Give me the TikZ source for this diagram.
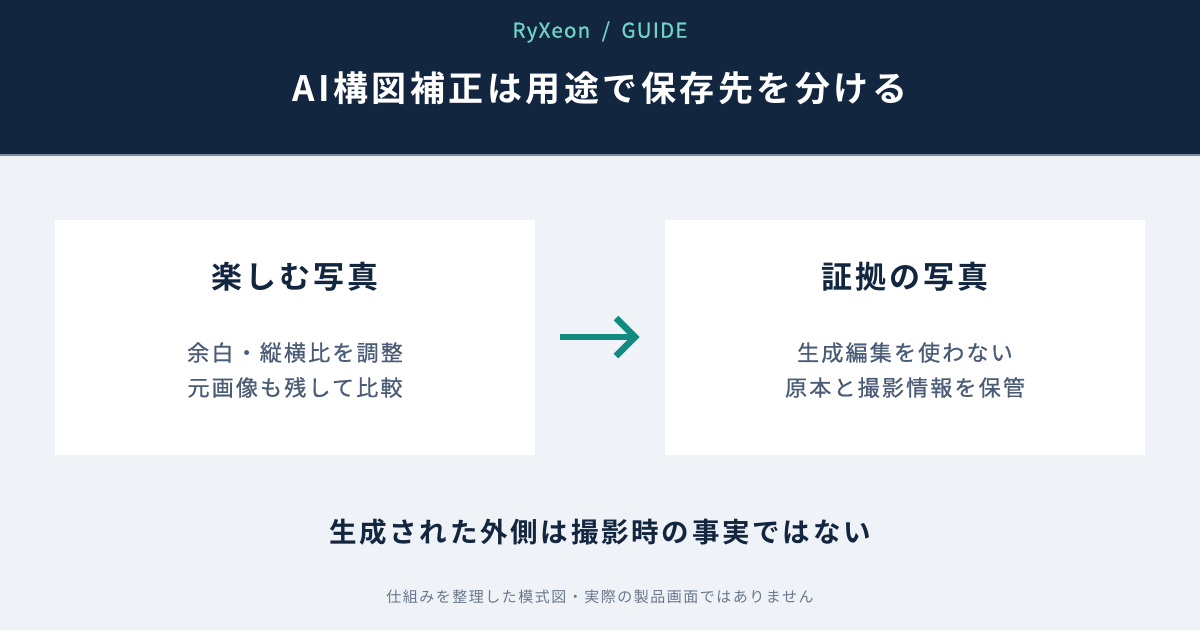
\documentclass[tikz,border=0pt]{standalone}
\usepackage{fontspec}
\newfontfamily\jpb[LetterSpace=10]{Noto Sans CJK JP Bold}
\newfontfamily\jpr[LetterSpace=10]{Noto Sans CJK JP}
\newfontfamily\jpmed[LetterSpace=10,FakeBold=0.8]{Noto Sans CJK JP}
\newfontfamily\jpm[LetterSpace=6,FakeBold=0.9]{Noto Sans CJK JP}
\definecolor{navy}{HTML}{13263F}
\definecolor{pagebg}{HTML}{EFF2F7}
\definecolor{subtxt}{HTML}{4B5D76}
\definecolor{foot}{HTML}{6A788B}
\definecolor{teal}{HTML}{138A7F}
\definecolor{tealL}{HTML}{6FD3C6}
\definecolor{rule}{HTML}{7D8A9C}
\tikzset{
  px/.style={x=1pt,y=-1pt},
  card/.style={fill=white,draw=none},
  headtxt/.style={anchor=center,text=tealL,font=\jpm\fontsize{20.5}{24}\selectfont},
  titletxt/.style={anchor=center,text=white,font=\jpb\fontsize{35}{40}\selectfont},
  cardtitle/.style={anchor=center,text=navy,font=\jpb\fontsize{31}{36}\selectfont},
  cardsub/.style={anchor=center,text=subtxt,align=center,font=\jpmed\fontsize{22}{35}\selectfont},
  note/.style={anchor=center,text=navy,font=\jpb\fontsize{27.5}{32}\selectfont},
  foottxt/.style={anchor=center,text=foot,font=\jpr\fontsize{15}{18}\selectfont},
  flow/.style={draw=teal,line width=6.5pt},
}
\begin{document}
\begin{tikzpicture}[px]
\useasboundingbox (0,0) rectangle (1200,630);
\fill[pagebg] (0,0) rectangle (1200,630);
\fill[navy] (0,0) rectangle (1200,155);
\draw[rule,line width=1.5pt] (0,155) -- (1200,155);
\node[headtxt] (brand) at (600,32) {RyXeon\ \ /\ \ GUIDE};
\node[titletxt] (title) at (600,88) {AI構図補正は用途で保存先を分ける};
\fill[card] (55,220) rectangle (535,455);
\fill[card] (665,220) rectangle (1145,455);
\node[cardtitle] (t1) at (295,277) {楽しむ写真};
\node[cardsub] (s1) at (295,370) {余白・縦横比を調整\\元画像も残して比較};
\node[cardtitle] (t2) at (905,277) {証拠の写真};
\node[cardsub] (s2) at (905,370) {生成編集を使わない\\原本と撮影情報を保管};
\coordinate (a0) at (560,337);
\coordinate (a1) at (635,337);
\coordinate (h1) at (616,318);
\coordinate (h2) at (616,356);
\draw[flow] (a0) -- (a1);
\draw[flow,line join=miter] (h1) -- (a1) -- (h2);
\node[note] (n) at (600,532) {生成された外側は撮影時の事実ではない};
\node[foottxt] (f) at (600,597) {仕組みを整理した模式図・実際の製品画面ではありません};
\end{tikzpicture}
\end{document}
